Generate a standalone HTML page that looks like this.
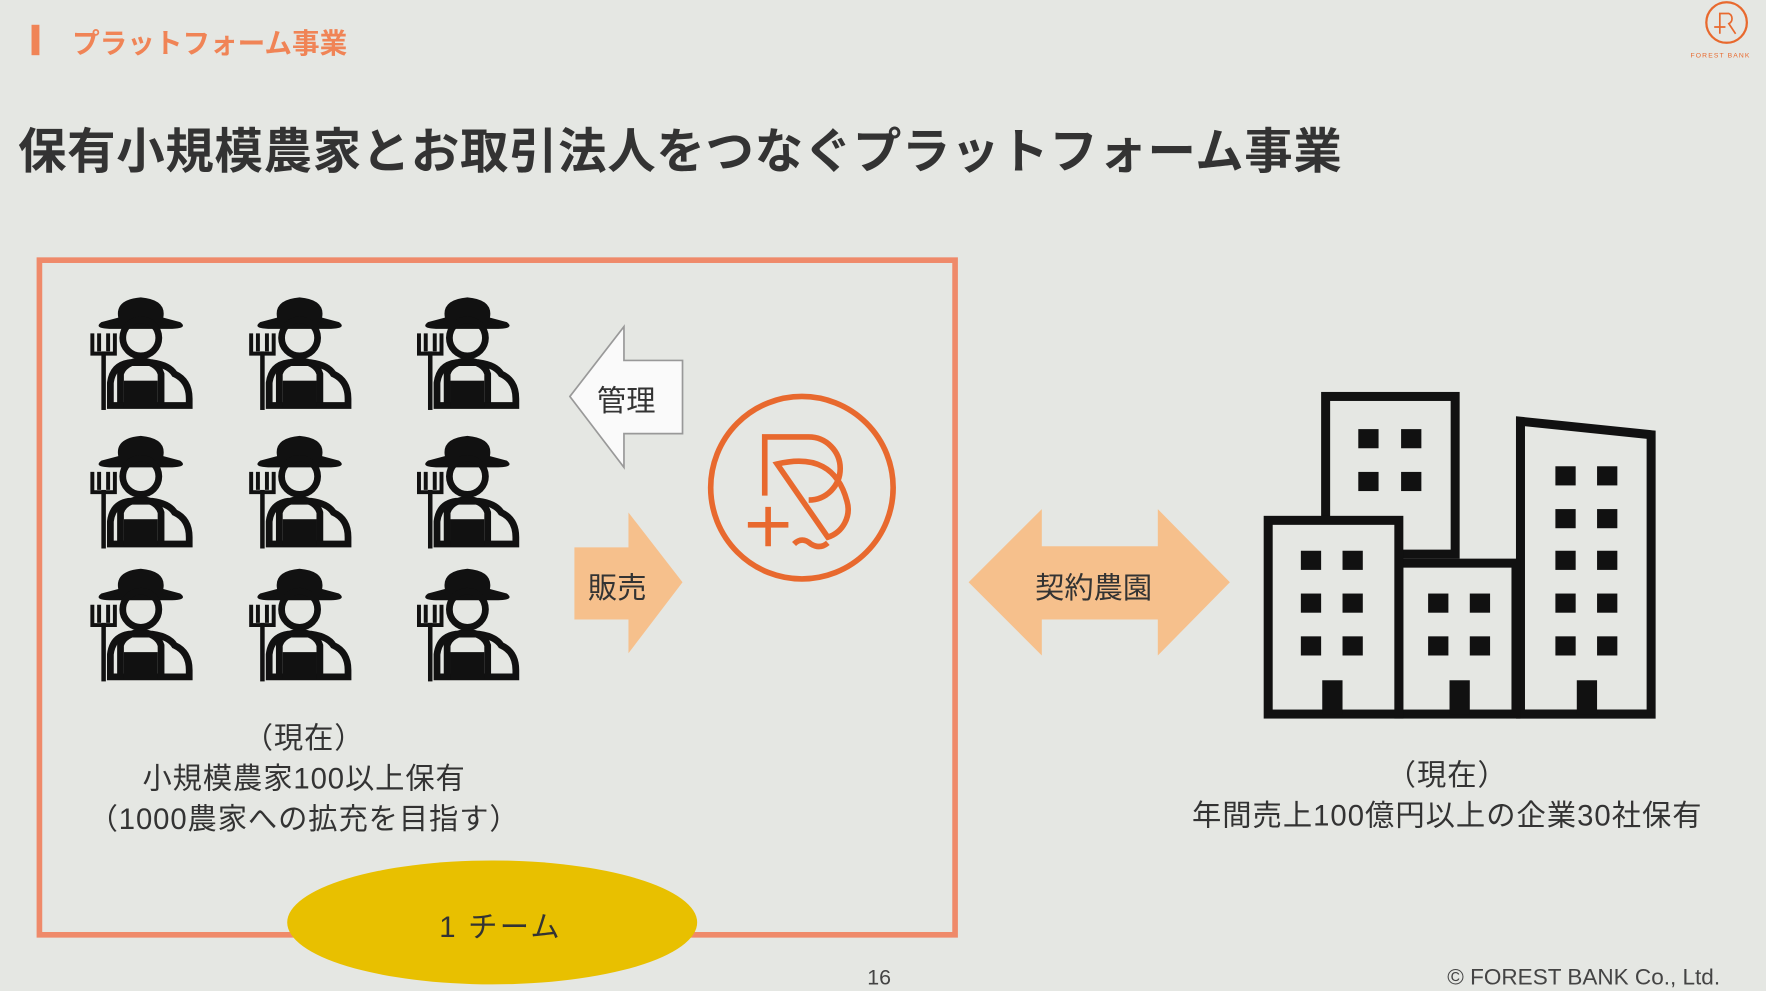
<!DOCTYPE html>
<html><head><meta charset="utf-8"><style>
html,body{margin:0;padding:0;width:1766px;height:991px;overflow:hidden;background:#e5e7e3}
#w{position:absolute;left:0;top:0;width:1568px;height:880px;transform:scale(1.12628);transform-origin:0 0;font-family:"Liberation Sans","Noto Sans CJK JP",sans-serif}
.t{position:absolute;white-space:nowrap}
</style></head><body><div id="w">
<svg width="1568" height="880" style="position:absolute;left:0;top:0">
<defs>
<g id="f">
<path d="M25 20 Q22 4 45 2 Q68 4 65 20 L80 24 Q88 30 70 30 L20 30 Q2 30 10 24 Z" fill="#111"/>
<circle cx="45" cy="38" r="16" fill="none" stroke="#111" stroke-width="6"/>
<path d="M27 98 L27 70 Q30 60 45 58 Q60 60 63 70 L63 98" fill="none" stroke="#111" stroke-width="6"/>
<path d="M18 98 L18 78 Q20 62 35 60 L55 60 Q70 62 75 70 Q88 76 88 92 L88 98 Z" fill="none" stroke="#111" stroke-width="6"/>
<rect x="30" y="76" width="30" height="24" fill="#111"/>
<rect x="10" y="50" width="4" height="52" fill="#111"/>
<path d="M2 34 V52 H22 V34 M8 34 V50 M16 34 V50" fill="none" stroke="#111" stroke-width="3.5"/>
</g>
</defs>
<rect x="28" y="22" width="7" height="27" fill="#f08456"/>
<rect x="35" y="231" width="813" height="599" fill="none" stroke="#ef8a6a" stroke-width="5"/>
<g>
<use href="#f" x="80" y="262"/><use href="#f" x="221" y="262"/><use href="#f" x="370" y="262"/>
<use href="#f" x="80" y="385"/><use href="#f" x="221" y="385"/><use href="#f" x="370" y="385"/>
<use href="#f" x="80" y="503"/><use href="#f" x="221" y="503"/><use href="#f" x="370" y="503"/>
</g>
<polygon points="506,352 554,290 554,320 606,320 606,385 554,385 554,415" fill="#fafafa" stroke="#999" stroke-width="1.5"/>
<polygon points="510,486 558,486 558,455 606,517 558,580 558,550 510,550" fill="#f6c08c"/>
<polygon points="860,517 925,452 925,485 1028,485 1028,452 1092,517 1028,582 1028,550 925,550 925,582" fill="#f6c08c"/>
<g fill="none" stroke="#e8692e" stroke-width="5">
<circle cx="712" cy="433" r="81"/>
<path d="M679 440 V388 H718 A28 28 0 0 1 718 444 M690 412 Q740 400 752 445 A26 26 0 0 1 735 477 Z M664 466 H700 M682 450 V485 M705 483 Q712 476 720 483 Q728 488 735 482"/>
</g>
<g stroke="#111" stroke-width="8" fill="#e5e7e3">
<rect x="1177" y="352" width="115" height="140"/>
<path d="M1350 634 V374 L1466 386 V634 Z"/>
<rect x="1242" y="500" width="104" height="134"/>
<rect x="1126" y="462" width="116" height="172"/>
</g>
<g fill="#111">
<rect x="1206" y="381" width="18" height="17"/><rect x="1244" y="381" width="18" height="17"/>
<rect x="1206" y="419" width="18" height="17"/><rect x="1244" y="419" width="18" height="17"/>
<rect x="1155" y="489" width="18" height="17"/><rect x="1192" y="489" width="18" height="17"/>
<rect x="1155" y="527" width="18" height="17"/><rect x="1192" y="527" width="18" height="17"/>
<rect x="1155" y="565" width="18" height="17"/><rect x="1192" y="565" width="18" height="17"/>
<rect x="1174" y="604" width="18" height="30"/>
<rect x="1268" y="527" width="18" height="17"/><rect x="1305" y="527" width="18" height="17"/>
<rect x="1268" y="565" width="18" height="17"/><rect x="1305" y="565" width="18" height="17"/>
<rect x="1287" y="604" width="18" height="30"/>
<rect x="1381" y="414" width="18" height="17"/><rect x="1418" y="414" width="18" height="17"/>
<rect x="1381" y="452" width="18" height="17"/><rect x="1418" y="452" width="18" height="17"/>
<rect x="1381" y="489" width="18" height="17"/><rect x="1418" y="489" width="18" height="17"/>
<rect x="1381" y="527" width="18" height="17"/><rect x="1418" y="527" width="18" height="17"/>
<rect x="1381" y="565" width="18" height="17"/><rect x="1418" y="565" width="18" height="17"/>
<rect x="1400" y="604" width="18" height="30"/>
</g>
<ellipse cx="437" cy="819" rx="182" ry="55" fill="#e8c000"/>
<circle cx="1533" cy="20" r="18" fill="none" stroke="#e8692e" stroke-width="2"/>
<path d="M1527 30 V12 H1535 A5 5 0 0 1 1535 21 L1541 30 M1522 24 H1532 M1527 20 V30" fill="none" stroke="#e8692e" stroke-width="1.5"/>
</svg>
<div class="t" style="left:64px;top:20px;font-size:24.5px;font-weight:bold;color:#f08456">プラットフォーム事業</div>
<div class="t" style="left:1501px;top:47px;font-size:6px;color:#e8692e;letter-spacing:1px">FOREST BANK</div>
<div class="t" style="left:16px;top:100px;font-size:43px;font-weight:bold;color:#333;letter-spacing:0.6px">保有小規模農家とお取引法人をつなぐプラットフォーム事業</div>
<div class="t" style="left:530px;top:336px;font-size:26px;color:#333">管理</div>
<div class="t" style="left:522px;top:502px;font-size:26px;color:#333">販売</div>
<div class="t" style="left:919px;top:502px;font-size:26px;color:#333">契約農園</div>
<div class="t" style="left:60px;top:637px;width:420px;text-align:center;font-size:26px;line-height:36px;color:#333;letter-spacing:0.8px">（現在）<br>小規模農家100以上保有<br>（1000農家への拡充を目指す）</div>
<div class="t" style="left:1030px;top:670px;width:510px;text-align:center;font-size:26px;line-height:36px;color:#333;letter-spacing:0.9px">（現在）<br>年間売上100億円以上の企業30社保有</div>
<div class="t" style="left:390px;top:803px;font-size:26px;color:#333;letter-spacing:2px">1 チーム</div>
<div class="t" style="left:770px;top:858px;font-size:19px;color:#444">16</div>
<div class="t" style="left:1285px;top:857px;font-size:20px;color:#444">© FOREST BANK Co., Ltd.</div>
</div></body></html>
